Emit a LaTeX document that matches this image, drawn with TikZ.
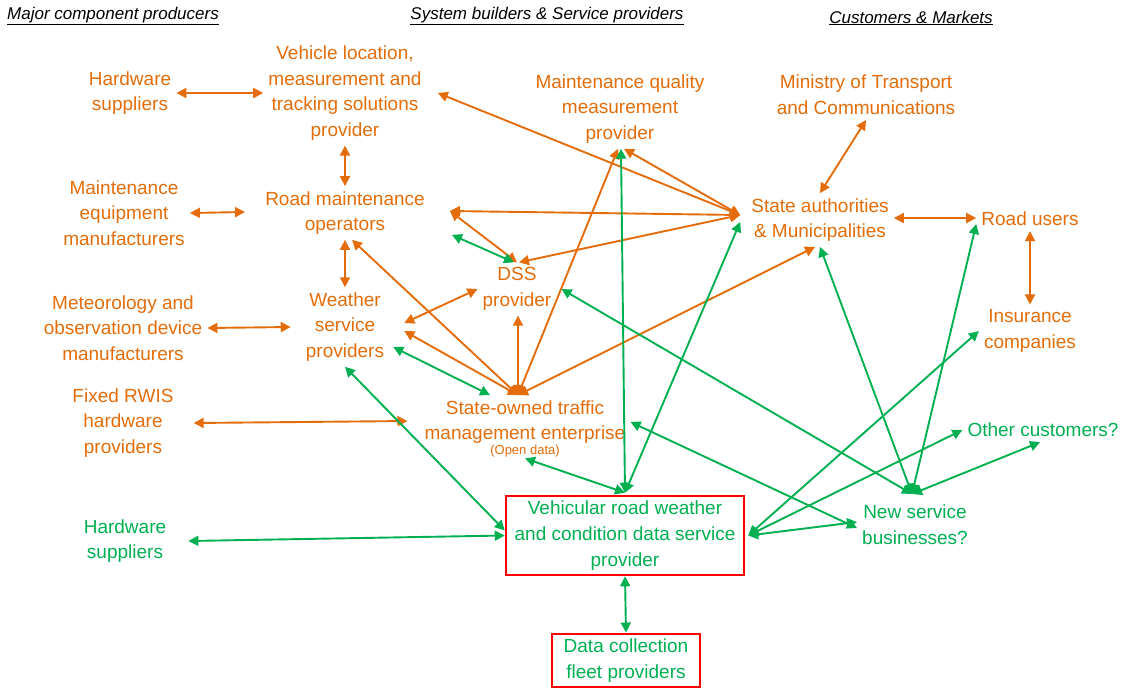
\documentclass[tikz,border=0pt]{standalone}
\usepackage{fontspec}
\setmainfont{Liberation Sans}
\usetikzlibrary{arrows.meta}
\definecolor{orng}{HTML}{E46C0A}
\definecolor{grn}{HTML}{00B050}
\definecolor{boxred}{HTML}{FF0000}
\newcommand{\opendata}{\fontsize{13}{15}\selectfont}

\begin{document}
\begin{tikzpicture}[x=1pt,y=-1pt]
\tikzset{onode/.style={text=orng, align=center, inner sep=5pt, font=\fontsize{19}{25.7}\selectfont},
  gnode/.style={onode, text=grn},
  redbox/.style={draw=boxred, line width=2.5pt},
  head/.style={font=\fontsize{17}{20}\selectfont\itshape, inner sep=1pt},
  oarr/.style={draw=orng, line width=1.9pt, {Triangle[length=10pt,width=10pt]}-{Triangle[length=10pt,width=10pt]}},
  garr/.style={oarr, draw=grn}}
\useasboundingbox (0,0) rectangle (1135,689);
\node[head] (H1) at (113,16) {\underline{Major component producers}};
\node[head] (H2) at (547,16) {\underline{System builders \& Service providers}};
\node[head] (H3) at (911,18) {\underline{Customers \& Markets}};
% orange actors
\node[onode] (HW1) at (130,93) {Hardware\\suppliers};
\node[onode] (VL) at (345,93) {Vehicle location,\\measurement and\\tracking solutions\\provider};
\node[onode] (MQ) at (620,109) {Maintenance quality\\measurement\\provider};
\node[onode] (MIN) at (866,95) {Ministry of Transport\\and Communications};
\node[onode] (ME) at (124,213) {Maintenance\\equipment\\manufacturers};
\node[onode] (RM) at (345,213) {Road maintenance\\operators};
\node[onode] (SA) at (820,220) {State authorities\\\& Municipalities};
\node[onode] (RU) at (1030,219) {Road users};
\node[onode] (DSS) at (517,289) {DSS\\provider};
\node[onode] (MET) at (123,328) {Meteorology and\\observation device\\manufacturers};
\node[onode] (WS) at (345,327) {Weather\\service\\providers};
\node[onode] (INS) at (1030,331) {Insurance\\companies};
\node[onode] (RWIS) at (123,423) {Fixed RWIS\\hardware\\providers};
\node[onode, label={[text=orng, font=\opendata, inner sep=1pt, label distance=-5pt, name=SOTlab]below:(Open data)}] (SOT) at (525,422) {State-owned traffic\\management enterprise};
% green actors
\node[gnode] (OC) at (1043,430) {Other customers?};
\node[gnode] (HW2) at (125,541) {Hardware\\suppliers};
\node[gnode, redbox, minimum width=238pt, minimum height=79pt] (VR) at (625,535.5) {Vehicular road weather\\and condition data service\\provider};
\node[gnode] (NSB) at (915,525) {New service\\businesses?};
\node[gnode, redbox, minimum width=148pt, minimum height=53pt] (DC) at (626,660.5) {Data collection\\fleet providers};
% meeting points
\coordinate (SAin) at ([xshift=-6pt,yshift=5pt]SA.west);
\coordinate (RMe) at ([xshift=20pt,yshift=2pt]RM.east);
\coordinate (SOTn) at ([xshift=-7pt]SOT.north);
\coordinate (VRn) at ([yshift=2pt]VR.north);
\coordinate (VRe) at ([xshift=3pt]VR.east);
\coordinate (NSBn) at ([xshift=-3pt,yshift=6pt]NSB.north);
% orange links
\draw[oarr] (HW1.east) -- (VL.west);
\draw[oarr] (VL.south) -- (RM.north);
\draw[oarr] (ME.east) -- ([xshift=-15pt,yshift=1pt]RM.west);
\draw[oarr] (RM.south) -- (WS.north);
\draw[oarr] (MET.east) -- ([xshift=-10pt]WS.west);
\draw[oarr] ([xshift=15pt]RWIS.east) -- ([xshift=-12pt,yshift=1pt]SOT.west);
\draw[oarr] (MIN.south) -- (SA.north);
\draw[oarr] ([yshift=2pt]SA.east) -- ([yshift=1pt]RU.west);
\draw[oarr] (RU.south) -- (INS.north);
\draw[oarr] (SAin) -- ([xshift=11pt]VL.east);
\draw[oarr] (SAin) -- ([xshift=4pt]MQ.south);
\draw[oarr] (SAin) -- (RMe);
\draw[oarr] (SAin) -- ([xshift=2pt]DSS.north);
\draw[oarr] (RMe) -- (DSS.north);
\draw[oarr] (SOTn) -- ([xshift=7pt]RM.south);
\draw[oarr] (SOTn) -- ([xshift=15pt,yshift=-4pt]WS.east);
\draw[oarr] (SOTn) -- (SOTn |- DSS.south);
\draw[oarr] (SOTn) -- ([xshift=-2pt]MQ.south);
\draw[oarr] (SOTn) -- ([xshift=-5pt]SA.south);
\draw[oarr] (DSS.west) -- ([xshift=15pt,yshift=4pt]WS.east);
% green links
\draw[garr] ([xshift=22pt,yshift=5pt]RM.south east) -- ([xshift=-3pt]DSS.north);
\draw[garr] ([xshift=4pt,yshift=-20pt]WS.east) -- ([xshift=-35pt]SOT.north);
\draw[garr] (WS.south) -- ([yshift=5pt]VR.west);
\draw[garr] ([xshift=17pt]HW2.east) -- (VR.west);
\draw[garr] (VRn) -- (SOTlab.south);
\draw[garr] (VRn) -- ([xshift=1pt]MQ.south);
\draw[garr] (VRn) -- ([xshift=-6pt,yshift=-2pt]SA.west);
\draw[garr] (NSBn) -- (SA.south);
\draw[garr] (NSBn) -- ([yshift=-5pt]RU.west);
\draw[garr] (NSBn) -- ([xshift=5pt]DSS.east);
\draw[garr] (NSBn) -- ([xshift=-3pt]OC.south);
\draw[garr] (VRe) -- (INS.west);
\draw[garr] (VRe) -- (OC.west);
\draw[garr] (VRe) -- ([yshift=3pt]NSB.west);
\draw[garr] (SOT.east) -- ([yshift=-3pt]NSB.west);
\draw[garr] (VR.south) -- (DC.north);
\end{tikzpicture}
\end{document}
